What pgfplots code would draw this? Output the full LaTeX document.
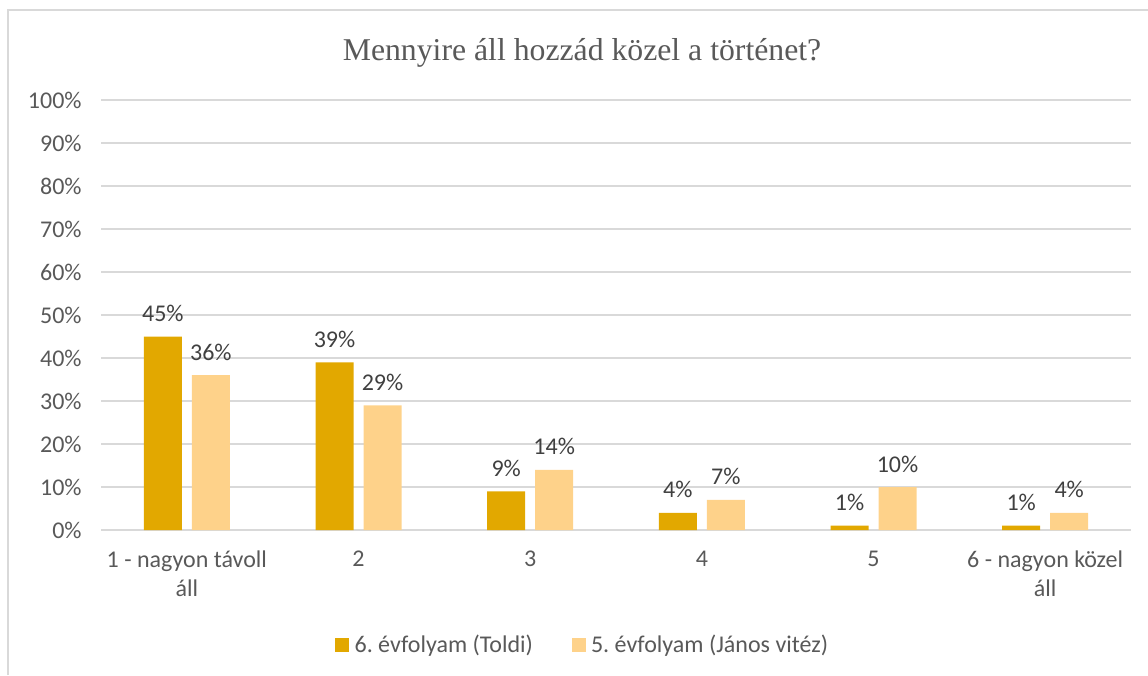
\documentclass[border=0pt]{standalone}
\usepackage{pgfplots}
\pgfplotsset{compat=1.18}
\usepackage{fontspec}
\setmainfont{Carlito}
\newfontfamily\titlefont{Liberation Serif}
\definecolor{darkgold}{HTML}{E2A800}
\definecolor{lightgold}{HTML}{FED28A}
\definecolor{gridgray}{HTML}{D9D9D9}
\definecolor{ticktext}{HTML}{595959}
\definecolor{labeltext}{HTML}{404040}
\frenchspacing
\begin{document}
\begin{tikzpicture}[x=0.75pt,y=0.75pt]
\path[use as bounding box] (0,0) rectangle (1148,675);
\draw[gridgray,line width=1.5pt] (8,0) -- (8,665) -- (1148,665);
\node[font=\titlefont\fontsize{23.8}{28}\selectfont,text=ticktext] at (582,622) {Mennyire áll hozzád közel a történet?};
\begin{axis}[
  at={(101*0.75pt,145*0.75pt)}, anchor=south west,
  scale only axis,
  width=1030*0.75pt, height=430*0.75pt,
  xmin=-0.5, xmax=5.5, ymin=0, ymax=100,
  ytick={0,10,...,100},
  yticklabel={\pgfmathprintnumber{\tick}\%},
  xtick=data,
  xticklabels={{1 - nagyon távoll\\áll},2,3,4,5,{6 - nagyon közel\\áll}},
  xticklabel style={align=center, text=ticktext, font=\fontsize{18}{21.75}\selectfont, yshift=-12pt},
  yticklabel style={text=ticktext, font=\fontsize{18}{20}\selectfont, xshift=-11pt},
  /pgf/number format/assume math mode=true,
  axis x line*=bottom, axis y line*=left,
  x axis line style={gridgray, line width=0.8pt},
  y axis line style={draw=none},
  major tick length=0pt,
  ymajorgrids, grid style={gridgray, line width=0.8pt},
  ybar, bar width=28.5pt,
  nodes near coords={\pgfmathprintnumber{\pgfplotspointmeta}\%},
  nodes near coords style={text=labeltext, font=\fontsize{18}{20}\selectfont, /pgf/number format/assume math mode=true, yshift=7.5pt},
  legend style={at={(0.468,-0.267)}, anchor=center, draw=none, legend columns=2,
    font=\fontsize{18}{20}\selectfont, text=ticktext,
    /tikz/every odd column/.append style={column sep=2pt},
    /tikz/every even column/.append style={column sep=27pt}},
  legend image code/.code={\fill[#1] (0pt,-5.25pt) rectangle (10.5pt,5.25pt);},
]
\addplot[fill=darkgold, draw=none, bar shift=-18pt] coordinates {(0,45) (1,39) (2,9) (3,4) (4,1) (5,1)};
\addplot[fill=lightgold, draw=none, bar shift=18pt] coordinates {(0,36) (1,29) (2,14) (3,7) (4,10) (5,4)};
\legend{6. évfolyam (Toldi), 5. évfolyam (János vitéz)}
\end{axis}
\end{tikzpicture}
\end{document}
